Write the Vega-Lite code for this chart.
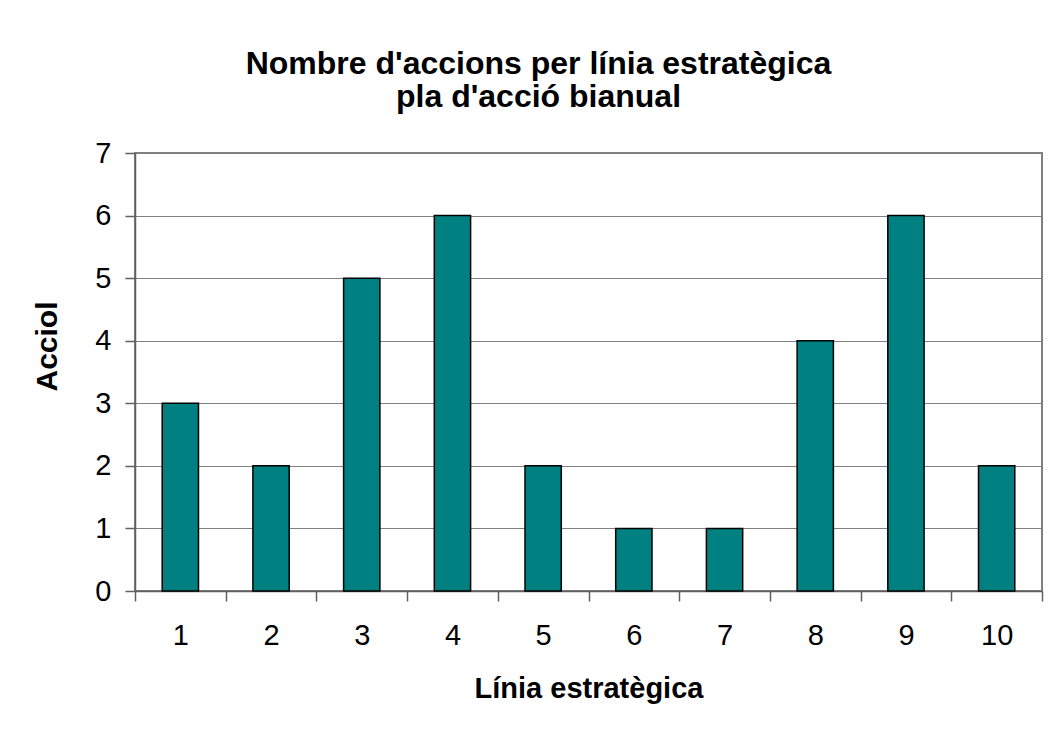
{
  "$schema": "https://vega.github.io/schema/vega-lite/v6.json",
  "width": 907,
  "height": 438,
  "autosize": {"type": "none"},
  "padding": {"left": 135, "top": 153, "right": 8, "bottom": 144},
  "background": "white",
  "config": {
    "font": "Liberation Sans",
    "view": {"stroke": "#808080", "strokeWidth": 2}
  },
  "title": {
    "text": ["Nombre d'accions per línia estratègica", "pla d'acció bianual"],
    "fontSize": 32,
    "fontWeight": "bold",
    "font": "Liberation Sans",
    "color": "black",
    "lineHeight": 33,
    "anchor": "middle",
    "dx": -50,
    "offset": 25
  },
  "data": {
    "values": [
      {"linia": "1", "accions": 3},
      {"linia": "2", "accions": 2},
      {"linia": "3", "accions": 5},
      {"linia": "4", "accions": 6},
      {"linia": "5", "accions": 2},
      {"linia": "6", "accions": 1},
      {"linia": "7", "accions": 1},
      {"linia": "8", "accions": 4},
      {"linia": "9", "accions": 6},
      {"linia": "10", "accions": 2}
    ]
  },
  "mark": {"type": "bar", "color": "#008080", "stroke": "black", "strokeWidth": 1.5, "width": {"band": 0.4}},
  "encoding": {
    "x": {
      "field": "linia",
      "type": "ordinal",
      "sort": null,
      "scale": {"paddingInner": 0, "paddingOuter": 0},
      "axis": {
        "title": "Línia estratègica",
        "titleFontSize": 29,
        "titleFontWeight": "bold",
        "titleColor": "black",
        "titlePadding": 24,
        "labelAngle": 0,
        "labelFontSize": 29,
        "labelColor": "black",
        "labelPadding": 20,
        "tickBand": "extent",
        "tickSize": 10,
        "tickColor": "#606060",
        "tickWidth": 1.5,
        "domainColor": "#606060",
        "domainWidth": 1.5,
        "grid": false
      }
    },
    "y": {
      "field": "accions",
      "type": "quantitative",
      "scale": {"domain": [0, 7]},
      "axis": {
        "title": "Acciol",
        "titleFontSize": 30,
        "titleFontWeight": "bold",
        "titleColor": "black",
        "titleX": -88,
        "titleY": 193,
        "titleBaseline": "middle",
        "titleAlign": "center",
        "values": [0, 1, 2, 3, 4, 5, 6, 7],
        "labelFontSize": 29,
        "labelColor": "black",
        "labelPadding": 14,
        "tickSize": 10,
        "tickColor": "#606060",
        "tickWidth": 1.5,
        "domainColor": "#606060",
        "domainWidth": 1.5,
        "grid": true,
        "gridColor": "#808080",
        "gridWidth": 1.2
      }
    }
  }
}
